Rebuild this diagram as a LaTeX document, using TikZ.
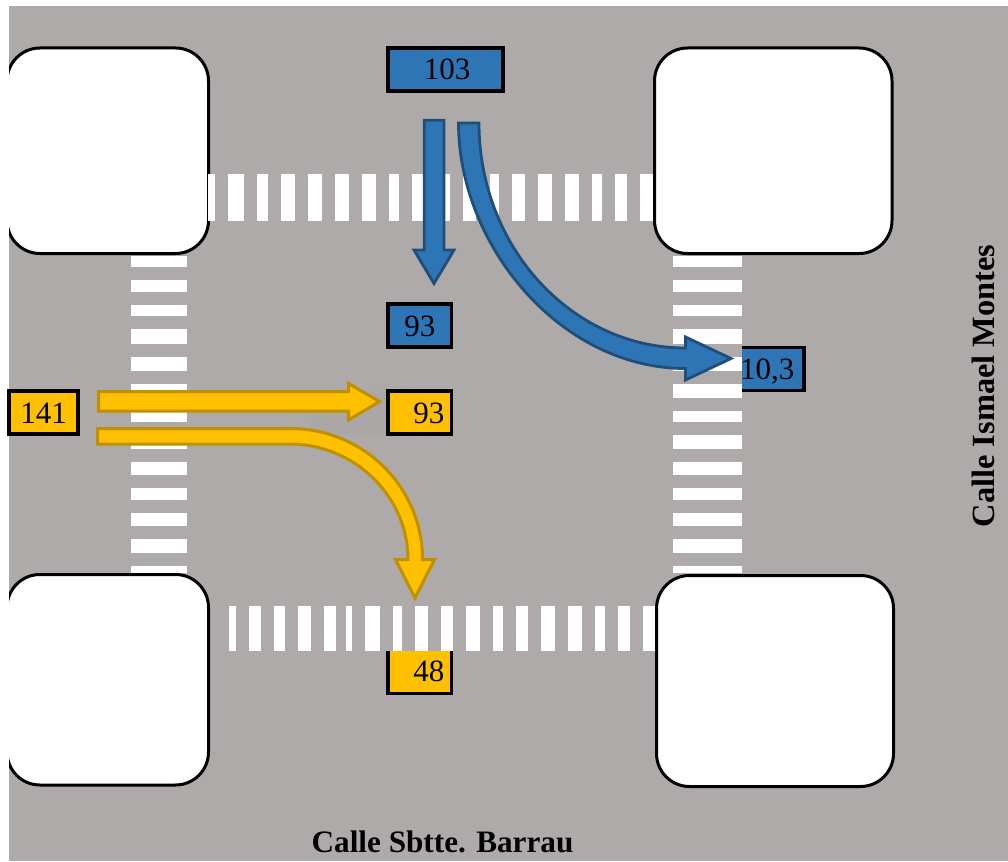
\documentclass[tikz,border=0pt]{standalone}
\usepackage{fontspec}
\setmainfont{Liberation Serif}
\definecolor{road}{HTML}{AEAAA9}
\definecolor{blueF}{HTML}{2E75B6}
\definecolor{blueD}{HTML}{1F4E79}
\definecolor{yelF}{HTML}{FFC000}
\definecolor{yelD}{HTML}{BF9000}
\tikzset{
  block/.style={draw=black,line width=3pt,fill=white,rounded corners=33pt},
  countbox/.style={draw=black,line width=3.6pt,minimum height=43pt,inner sep=0pt,font=\fontsize{31}{31}\selectfont,text=black,anchor=center,text depth=0pt,text height=21pt},
  bluebox/.style={countbox,fill=blueF},
  yelbox/.style={countbox,fill=yelF},
  stripe/.style={fill=white,draw=none},
  bluearrow/.style={draw=blueD,fill=blueF,line width=2.8pt,miter limit=10},
  yelarrow/.style={draw=yelD,fill=yelF,line width=3pt,miter limit=10},
  street/.style={font=\bfseries,text=black}
}
\begin{document}
\begin{tikzpicture}[x=1pt,y=-1pt]
\useasboundingbox (0,0) rectangle (1008,861);
\fill[road] (9,6) rectangle (1008,861);
\fill[color=road!92!gray] (311,391) rectangle (386,434);
% blocks
\begin{scope}
\clip (9,0) rectangle (1008,861);
\draw[block] (7,48) rectangle (208.5,253.5);
\draw[block] (7,574.5) rectangle (208.5,785);
\end{scope}
\draw[block] (654.5,48) rectangle (892,253.5);
\draw[block] (656.5,575.5) rectangle (893.5,786.5);
% boxes covered by the crossings
\node[bluebox,minimum width=66pt,text width=62pt,align=right] (b103r) at (771,369) {10,3\hspace*{8pt}};
\node[yelbox,minimum width=63.5pt,minimum height=46pt] (y48) at (419.8,670.5) {\hspace*{18pt}48};
% crossings
\fill[road] (673,256) rectangle (742,573);
\fill[road] (229,606) rectangle (655,651);
\foreach \a/\b in {208/215,228/244,257/268,281/295,308/322,335/349,362/376,389/399,412/425,437/450,463/476,490/499,512/525,538/552,565/579,592/602,615/627,640/653}
  \fill[stripe] (\a,174) rectangle (\b,221);
\foreach \a/\b in {229/236,249/261,274/285,298/311,324/336,346/352,365/380,393/402,415/428,441/453,466/480,493/503,516/528,541/555,568/582,595/605,618/630,643/655}
  \fill[stripe] (\a,606) rectangle (\b,651);
\foreach \a/\b in {256/267,280/292,305/316,329/344,357/371,384/398,411/422,435/449,462/475,488/500,513/526,539/553,566/573}{
  \fill[stripe] (131,\a) rectangle (187,\b);
  \fill[stripe] (673,\a) rectangle (742,\b);
}
% arrows
\draw[bluearrow] (424.3,120.3) -- (444,120.3) -- (444,250) -- (454,250) -- (434,283.5) -- (414,250) -- (424.3,250) -- cycle;
\draw[bluearrow] (458.5,123) -- (479,123) .. controls (479,246.8) and (571.2,348) .. (685.5,348)
  -- (685.5,337) -- (731,358.5) -- (685.5,380) -- (685.5,368.5)
  .. controls (560,368.5) and (458.5,245) .. (458.5,123) -- cycle;
\draw[yelarrow] (98.5,391.5) -- (348.5,391.5) -- (348.5,383.5) -- (379.5,401.5) -- (348.5,420) -- (348.5,411) -- (98.5,411) -- cycle;
\draw[yelarrow] (97.5,428.5) -- (290,428.5) .. controls (363.5,428.5) and (422.5,487) .. (422.5,559.5)
  -- (434.5,559.5) -- (415,598) -- (395.5,559.5) -- (408,559.5)
  .. controls (408,495.5) and (353.5,444) .. (290,444) -- (97.5,444) -- cycle;
% other boxes
\node[bluebox,minimum width=115pt] (b103) at (445.5,69.5) {\hspace*{3pt}103};
\node[bluebox,minimum width=63.5pt] (b93) at (419.8,325.5) {93};
\node[yelbox,minimum width=69pt] (y141) at (43.5,412.5) {141};
\node[yelbox,minimum width=63.5pt] (y93) at (419.8,412.5) {\hspace*{18pt}93};
% street names
\node[street,font=\fontsize{31.2}{31}\selectfont\bfseries] (sbarrau) at (442.5,842) {Calle Sbtte. Barrau};
\node[street,rotate=90,font=\fontsize{32.4}{32}\selectfont\bfseries] (smontes) at (983.5,386) {Calle Ismael Montes};
\end{tikzpicture}
\end{document}
